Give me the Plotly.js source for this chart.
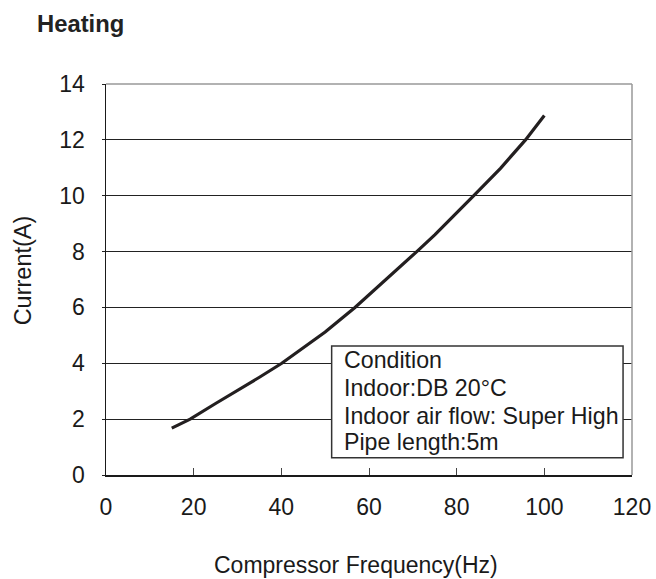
<!DOCTYPE html>
<html>
<head>
<meta charset="utf-8">
<script src="https://cdn.plot.ly/plotly-3.0.1.min.js"></script>
<style>html,body{margin:0;padding:0;background:#fff;}#chart{width:656px;height:579px;}</style>
</head>
<body>
<div id="chart"></div>
<script>
// Data
var frequencyHz = [15, 19.2, 25, 30, 35, 40.1, 45, 50, 56.8, 60, 65, 70.9, 75, 80, 83.9, 90, 95.7, 100];
var currentA = [1.68, 2.0, 2.56, 3.02, 3.5, 4.0, 4.54, 5.12, 6.0, 6.45, 7.15, 8.0, 8.6, 9.38, 10.0, 10.98, 12.0, 12.87];
var xTickVals = [0, 20, 40, 60, 80, 100, 120];
var yTickVals = [0, 2, 4, 6, 8, 10, 12, 14];
var conditionLines = ["Condition", "Indoor:DB 20°C", "Indoor air flow: Super High", "Pipe length:5m"];

var FONT = "Liberation Sans, Arial, Helvetica, sans-serif";
var lineY = [0.2943, 0.2227, 0.151, 0.0852];

var annotations = [
  {text: "Compressor Frequency(Hz)", xref: "paper", yref: "paper", x: 0.476, y: -0.2304,
   xanchor: "center", yanchor: "middle", showarrow: false, font: {family: FONT, size: 23, color: "#1a1a1a"}},
  {text: "Current(A)", xref: "paper", yref: "paper", x: -0.1578, y: 0.5234, textangle: -90,
   xanchor: "center", yanchor: "middle", showarrow: false, font: {family: FONT, size: 23.5, color: "#1a1a1a"}}
];
conditionLines.forEach(function (t, i) {
  annotations.push({text: t, xref: "paper", yref: "paper", x: 0.448, y: lineY[i],
    xanchor: "left", yanchor: "middle", showarrow: false,
    font: {family: FONT, size: 23.2, color: "#1a1a1a"}});
});

var trace = {
  x: frequencyHz, y: currentA, type: "scatter", mode: "lines",
  line: {color: "#231f20", width: 3.2, shape: "linear"},
  hoverinfo: "skip"
};

var layout = {
  width: 656, height: 579,
  margin: {l: 106, r: 24, t: 84, b: 104},
  paper_bgcolor: "#ffffff", plot_bgcolor: "#ffffff",
  showlegend: false,
  title: {text: "<b>Heating</b>", xref: "container", yref: "container", x: 0.0564, xanchor: "left",
          y: 0.9585, yanchor: "middle", font: {family: FONT, size: 23.8, color: "#222"}},
  xaxis: {
    range: [0, 120], tickvals: xTickVals, ticktext: xTickVals.map(String),
    showgrid: false, zeroline: false, showline: true, linecolor: "#1a1a1a", linewidth: 1.5,
    ticks: "inside", ticklen: 7, tickwidth: 1, tickcolor: "#444",
    ticklabelstandoff: 11,
    tickfont: {family: FONT, size: 23, color: "#1a1a1a"}, fixedrange: true
  },
  yaxis: {
    range: [0, 14], tickvals: yTickVals, ticktext: yTickVals.map(String),
    showgrid: true, gridcolor: "#222", gridwidth: 1, zeroline: false,
    showline: true, linecolor: "#1a1a1a", linewidth: 1.5,
    ticks: "outside", ticklen: 3, tickwidth: 1, tickcolor: "#222",
    ticklabelstandoff: 12,
    tickfont: {family: FONT, size: 23, color: "#1a1a1a"}, fixedrange: true
  },
  shapes: [
    {type: "line", xref: "paper", yref: "paper", x0: 0, x1: 1, y0: 1, y1: 1, line: {color: "#999", width: 1.5}, layer: "above"},
    {type: "line", xref: "paper", yref: "paper", x0: 1, x1: 1, y0: 0, y1: 1, line: {color: "#999", width: 1.5}, layer: "above"},
    {type: "rect", xref: "paper", yref: "paper", x0: 0.429, x1: 0.983, y0: 0.0443, y1: 0.330,
     fillcolor: "#ffffff", line: {color: "#333", width: 1.5}, layer: "above"}
  ],
  annotations: annotations
};

Plotly.newPlot("chart", [trace], layout, {staticPlot: true, displayModeBar: false});
</script>
</body>
</html>
